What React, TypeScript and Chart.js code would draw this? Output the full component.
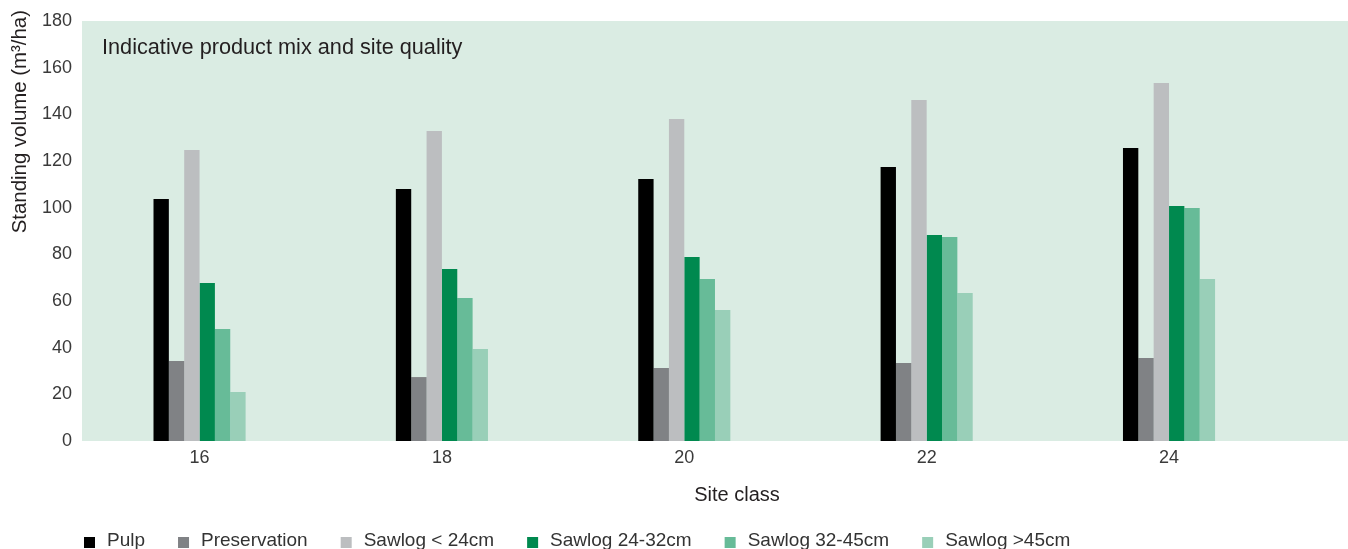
import { useEffect, useRef } from 'react';
import { Chart, registerables } from 'chart.js';

Chart.register(...registerables);

// Site classes on the x axis
const siteClasses = [16, 18, 20, 22, 24];

// Standing volume per product (m³/ha) for each site class
const pulp = [103.7, 108, 112.3, 117.4, 125.6];
const preservation = [34.3, 27.4, 31.3, 33.4, 35.6];
const sawlogUnder24 = [124.7, 132.9, 138, 146.1, 153.4];
const sawlog24to32 = [67.7, 73.7, 78.9, 88.3, 100.7];
const sawlog32to45 = [48, 61.3, 69.4, 87.4, 99.9];
const sawlogOver45 = [21, 39.4, 56.1, 63.4, 69.4];

const yTicks = [0, 20, 40, 60, 80, 100, 120, 140, 160, 180];

const seriesLabels = [
  'Pulp',
  'Preservation',
  'Sawlog < 24cm',
  'Sawlog 24-32cm',
  'Sawlog 32-45cm',
  'Sawlog >45cm',
];
const seriesValues = [pulp, preservation, sawlogUnder24, sawlog24to32, sawlog32to45, sawlogOver45];
const seriesColors = ['#000000', '#808285', '#bcbec0', '#00894f', '#67bb98', '#99cfb8'];

const chartTitle = 'Indicative product mix and site quality';
const xTitle = 'Site class';
const yTitle = 'Standing volume (m³/ha)';

const FONT = "'Liberation Sans', Arial, Helvetica, sans-serif";
const PLOT_BG = '#daece3';

// Mint panel behind the bars
const plotBackground = {
  id: 'plotBackground',
  beforeDraw(chart: any) {
    const { ctx, chartArea } = chart;
    ctx.save();
    ctx.fillStyle = PLOT_BG;
    ctx.fillRect(chartArea.left, chartArea.top, chartArea.right - chartArea.left, chartArea.bottom - chartArea.top);
    ctx.restore();
  },
};

// Caption written inside the panel, top-left
const innerTitle = {
  id: 'innerTitle',
  afterDraw(chart: any) {
    const { ctx, chartArea } = chart;
    ctx.save();
    ctx.font = `21.7px ${FONT}`;
    ctx.fillStyle = '#231f20';
    ctx.textAlign = 'left';
    ctx.textBaseline = 'alphabetic';
    ctx.fillText(chartTitle, chartArea.left + 20, chartArea.top + 33);
    ctx.restore();
  },
};

// Vertical axis title, anchored near the top of the value axis
const yAxisTitle = {
  id: 'yAxisTitle',
  afterDraw(chart: any) {
    const { ctx, chartArea } = chart;
    ctx.save();
    ctx.translate(20, chartArea.top - 11);
    ctx.rotate(-Math.PI / 2);
    ctx.font = `20.4px ${FONT}`;
    ctx.fillStyle = '#231f20';
    ctx.textAlign = 'right';
    ctx.textBaseline = 'middle';
    ctx.fillText(yTitle, 0, 0);
    ctx.restore();
  },
};

// Row of square swatches + labels under the axis title
const seriesLegend = {
  id: 'seriesLegend',
  afterDraw(chart: any) {
    const { ctx, chartArea } = chart;
    const box = 11;
    const textGap = 12;
    const itemGap = 33;
    const baseline = chartArea.bottom + 105;
    let x = chartArea.left + 2;
    ctx.save();
    ctx.font = `19px ${FONT}`;
    ctx.textAlign = 'left';
    ctx.textBaseline = 'alphabetic';
    chart.data.datasets.forEach((ds: any) => {
      ctx.fillStyle = ds.backgroundColor;
      ctx.fillRect(x, baseline - 9, box, box);
      const tx = x + box + textGap;
      ctx.fillStyle = '#333333';
      ctx.fillText(ds.label, tx, baseline);
      x = tx + ctx.measureText(ds.label).width + itemGap;
    });
    ctx.restore();
  },
};

export default function App() {
  const canvasRef = useRef<HTMLCanvasElement | null>(null);

  useEffect(() => {
    const canvas = canvasRef.current;
    if (!canvas) return;

    const datasets = seriesLabels.map((label, i) => ({
      label,
      data: siteClasses.map((sc, j) => ({ x: sc, y: seriesValues[i][j] })),
      backgroundColor: seriesColors[i],
      borderWidth: 0,
      categoryPercentage: 0.38,
      barPercentage: 1.0,
    }));

    const chart = new Chart(canvas, {
      type: 'bar',
      data: { datasets },
      plugins: [plotBackground, innerTitle, yAxisTitle, seriesLegend],
      options: {
        responsive: false,
        animation: false,
        devicePixelRatio: 1,
        layout: { padding: { top: 21, right: 8, bottom: 0, left: 0 } },
        plugins: {
          legend: { display: false },
          tooltip: { enabled: false },
        },
        scales: {
          x: {
            type: 'linear',
            min: 15.03,
            max: 25.84,
            offset: false,
            grid: { display: false, drawTicks: false, offset: false },
            border: { display: false },
            afterBuildTicks: (scale: any) => {
              scale.ticks = siteClasses.map((v) => ({ value: v }));
            },
            afterFit: (scale: any) => {
              scale.height = 119;
            },
            ticks: {
              padding: 6,
              color: '#3a3a3a',
              font: { family: FONT, size: 18 },
              callback: (v: any) => String(v),
            },
            title: {
              display: true,
              text: xTitle,
              color: '#231f20',
              font: { family: FONT, size: 20, lineHeight: 1.2 },
              padding: { top: 0, bottom: 53 },
            },
          },
          y: {
            min: 0,
            max: 180,
            grid: { display: false, drawTicks: false },
            border: { display: false },
            afterBuildTicks: (scale: any) => {
              scale.ticks = yTicks.map((v) => ({ value: v }));
            },
            afterFit: (scale: any) => {
              scale.width = 82;
            },
            ticks: {
              padding: 10,
              color: '#3a3a3a',
              font: { family: FONT, size: 18 },
            },
          },
        },
      } as any,
    });

    return () => chart.destroy();
  }, []);

  return (
    <div
      style={{
        position: 'fixed',
        left: 0,
        top: 0,
        width: 1348,
        height: 549,
        overflow: 'hidden',
        background: '#ffffff',
      }}
    >
      <canvas ref={canvasRef} width={1400} height={560} style={{ width: 1400, height: 560, display: 'block' }} />
    </div>
  );
}
